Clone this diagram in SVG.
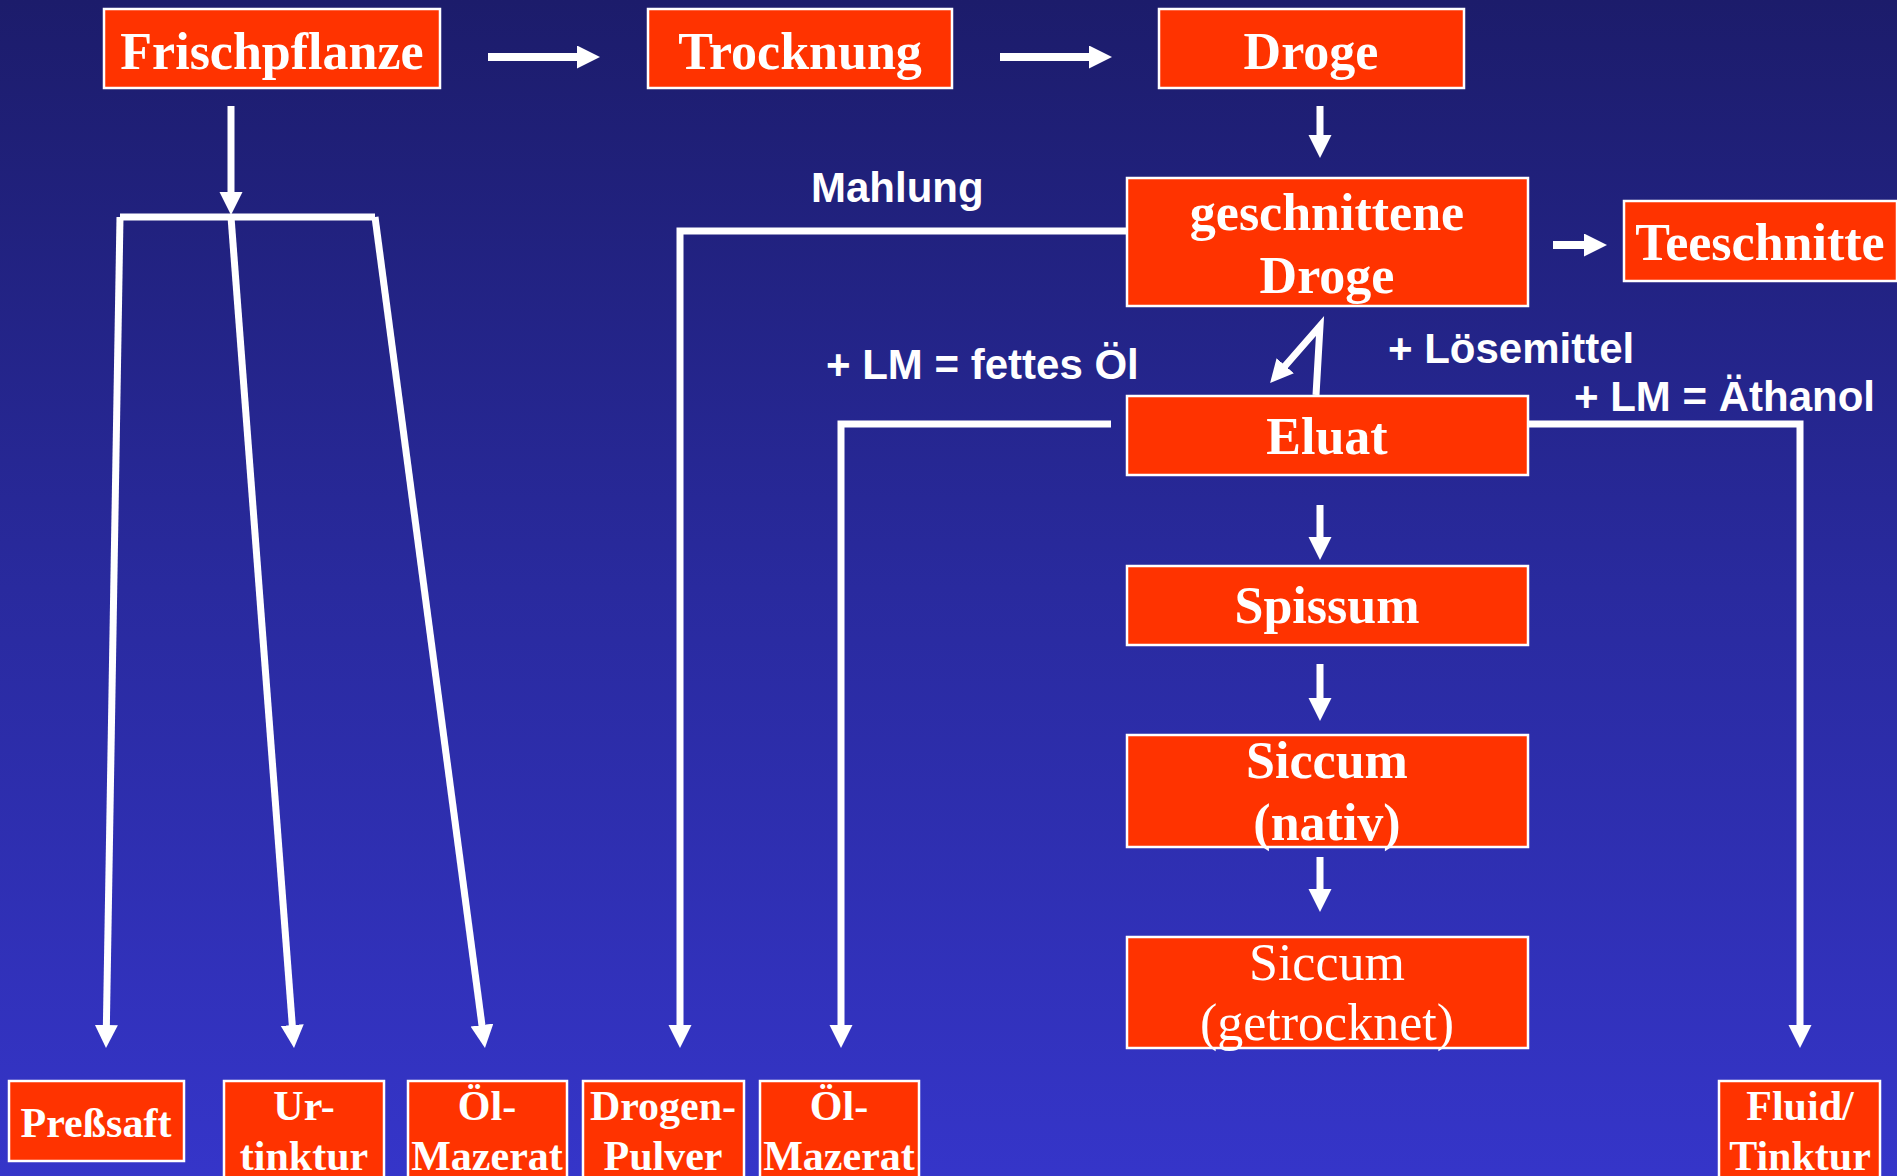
<svg xmlns="http://www.w3.org/2000/svg" width="1897" height="1176" viewBox="0 0 1897 1176">
<defs>
<linearGradient id="bg" x1="0" y1="0" x2="0" y2="1">
<stop offset="0" stop-color="#1c1c6b"/>
<stop offset="0.5" stop-color="#292a9e"/>
<stop offset="1" stop-color="#3535c9"/>
</linearGradient>
<marker id="ah" markerUnits="userSpaceOnUse" markerWidth="24" markerHeight="24" refX="11" refY="11.5" orient="auto">
<path d="M0,0 L23,11.5 L0,23 Z" fill="#fff"/>
</marker>
</defs>
<style>
.box{fill:#ff3300;stroke:#fff;stroke-width:2.5}
.t{font-family:"Liberation Serif","Times New Roman",serif;font-weight:bold;font-size:52px;fill:#fff;text-anchor:middle}
.tr{font-weight:normal}
.ts{font-family:"Liberation Serif","Times New Roman",serif;font-weight:bold;font-size:42px;fill:#fff;text-anchor:middle}
.lab{font-family:"Liberation Sans",Arial,sans-serif;font-weight:bold;font-size:42px;fill:#fff}
.c{fill:none;stroke:#fff;stroke-width:7}
.a{fill:none;stroke:#fff;stroke-width:8;marker-end:url(#ah)}
.as{fill:none;stroke:#fff;stroke-width:7;marker-end:url(#ah)}
</style>
<rect x="0" y="0" width="1897" height="1176" fill="url(#bg)"/>

<g id="connectors">
<line class="a" x1="488" y1="57" x2="588" y2="57"/>
<line class="a" x1="1000" y1="57" x2="1100" y2="57"/>
<line class="as" x1="1320" y1="106" x2="1320" y2="146"/>
<line class="a" x1="1553" y1="245" x2="1595" y2="245"/>
<line class="as" x1="231" y1="106" x2="231" y2="203"/>
<polyline class="c" points="120,217 375,217"/>
<line class="as" x1="120" y1="217" x2="106.2" y2="1036"/>
<line class="as" x1="231" y1="217" x2="293.1" y2="1036"/>
<line class="as" x1="375" y1="217" x2="483.4" y2="1036"/>
<polyline class="as" points="1127,231 680,231 680,1036"/>
<polyline class="as" points="1316,395 1320,326 1278,374"/>
<polyline class="as" points="1111,424 841,424 841,1036"/>
<polyline class="as" points="1528,424 1800,424 1800,1036"/>
<line class="as" x1="1320" y1="505" x2="1320" y2="548"/>
<line class="as" x1="1320" y1="664" x2="1320" y2="709"/>
<line class="as" x1="1320" y1="857" x2="1320" y2="900"/>
</g>

<text class="lab" x="811" y="202">Mahlung</text>
<text class="lab" x="826" y="379">+ LM = fettes Öl</text>
<text class="lab" x="1388" y="363">+ Lösemittel</text>
<text class="lab" x="1574" y="411">+ LM = Äthanol</text>

<g id="frischpflanze"><rect class="box" x="104" y="9" width="336" height="79"/><text class="t" x="272" y="69">Frischpflanze</text></g>
<g id="trocknung"><rect class="box" x="648" y="9" width="304" height="79"/><text class="t" x="800" y="69">Trocknung</text></g>
<g id="droge"><rect class="box" x="1159" y="9" width="305" height="79"/><text class="t" x="1311" y="69">Droge</text></g>
<g id="geschnittene"><rect class="box" x="1127" y="178" width="401" height="128"/><text class="t" x="1327" y="230">geschnittene</text><text class="t" x="1327" y="293">Droge</text></g>
<g id="teeschnitte"><rect class="box" x="1624" y="201" width="273" height="80"/><text class="t" x="1760" y="260">Teeschnitte</text></g>
<g id="eluat"><rect class="box" x="1127" y="396" width="401" height="79"/><text class="t" x="1327" y="454">Eluat</text></g>
<g id="spissum"><rect class="box" x="1127" y="566" width="401" height="79"/><text class="t" x="1327" y="623">Spissum</text></g>
<g id="siccum-nativ"><rect class="box" x="1127" y="735" width="401" height="112"/><text class="t" x="1327" y="778">Siccum</text><text class="t" x="1327" y="840">(nativ)</text></g>
<g id="siccum-getrocknet"><rect class="box" x="1127" y="937" width="401" height="111"/><text class="t tr" x="1327" y="980">Siccum</text><text class="t tr" x="1327" y="1040">(getrocknet)</text></g>

<g id="pressaft"><rect class="box" x="9" y="1081" width="175" height="80"/><text class="ts" x="96" y="1137">Preßsaft</text></g>
<g id="urtinktur"><rect class="box" x="224" y="1081" width="160" height="110"/><text class="ts" x="304" y="1120">Ur-</text><text class="ts" x="304" y="1170">tinktur</text></g>
<g id="oelmazerat1"><rect class="box" x="408" y="1081" width="159" height="110"/><text class="ts" x="487" y="1120">Öl-</text><text class="ts" x="487" y="1170">Mazerat</text></g>
<g id="drogenpulver"><rect class="box" x="583" y="1081" width="161" height="110"/><text class="ts" x="663" y="1120">Drogen-</text><text class="ts" x="663" y="1170">Pulver</text></g>
<g id="oelmazerat2"><rect class="box" x="760" y="1081" width="159" height="110"/><text class="ts" x="839" y="1120">Öl-</text><text class="ts" x="839" y="1170">Mazerat</text></g>
<g id="fluidtinktur"><rect class="box" x="1719" y="1081" width="161" height="110"/><text class="ts" x="1800" y="1120">Fluid/</text><text class="ts" x="1800" y="1170">Tinktur</text></g>
</svg>
